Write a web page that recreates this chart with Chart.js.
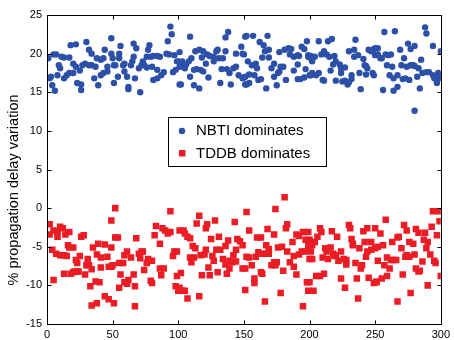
<!DOCTYPE html>
<html>
<head>
<meta charset="utf-8">
<script src="https://cdn.jsdelivr.net/npm/chart.js@4.4.0/dist/chart.umd.min.js"></script>
<style>
  body { margin: 0; background: #fff; }
  #wrap { width: 454px; height: 340px; }
</style>
</head>
<body>
<div id="wrap"><canvas id="delayChart" width="454" height="340"></canvas></div>
<script>
const xTicks = [0, 50, 100, 150, 200, 250, 300];
const yTicks = [-15, -10, -5, 0, 5, 10, 15, 20, 25];
const legendLabels = ['NBTI dominates', 'TDDB dominates'];
const yTitle = '% propagation delay variation';

// [sample index, % variation]
const nbti = [
  [1,19.4],[2,16.8],[3,17.0],[4,15.9],[5,19.9],[6,15.2],[7,19.9],[8,17.2],[9,18.5],[10,18.1],[11,19.6],[13,16.8],[13,19.5],[15,17.2],[17,17.5],[17,19.5],[18,21.1],[20,18.7],[20,17.5],[22,18.3],[22,21.2],[23,16.2],[25,17.8],[26,15.3],[26,16.0],[27,18.5],[29,18.7],[30,21.5],[32,18.5],[32,20.5],[34,20.0],[34,18.5],[36,16.8],[37,18.3],[38,19.4],[39,15.9],[41,19.2],[41,17.2],[43,19.4],[43,17.5],[44,20.5],[46,17.7],[46,18.3],[49,22.0],[49,20.0],[51,18.5],[51,16.2],
  [50,19.4],[52,18.5],[54,17.0],[55,20.0],[55,19.4],[56,21.0],[58,18.5],[59,18.7],[59,17.7],[61,17.0],[62,15.7],[62,15.4],[64,18.5],[65,19.0],[66,19.6],[66,21.3],[67,16.8],[68,20.7],[70,18.1],[71,15.0],[72,18.5],[73,19.0],[74,18.5],[76,18.2],[76,19.6],[77,20.5],[78,21.1],[79,19.6],[80,18.3],[81,19.7],[81,16.6],[84,19.7],[84,16.8],[84,17.9],[86,19.6],[87,17.2],[89,17.6],[91,20.0],[92,21.6],[93,19.9],[94,23.5],[95,22.5],[96,17.6],[97,19.8],[98,17.9],[99,19.0],[101,18.3],[101,20.2],[101,16.0],
  [100,19.0],[102,16.0],[103,19.0],[104,18.3],[105,18.1],[106,18.6],[108,19.0],[109,22.2],[109,17.0],[110,19.4],[112,17.9],[112,15.9],[113,20.3],[114,18.0],[116,15.5],[116,20.5],[117,17.9],[118,19.5],[119,20.3],[119,17.7],[121,18.7],[122,19.9],[123,16.9],[124,19.7],[127,19.6],[127,19.0],[129,20.3],[130,20.5],[131,19.4],[132,16.2],[133,18.0],[134,19.4],[136,20.3],[136,22.1],[137,18.0],[138,22.8],[139,17.5],[140,16.0],[142,18.1],[144,18.3],[144,20.0],[146,17.2],[148,20.9],[149,16.8],[149,20.0],[151,17.0],[151,22.2],[151,16.0],
  [150,19.9],[152,22.3],[150,16.9],[152,16.0],[154,16.2],[153,19.0],[156,18.5],[159,18.7],[160,18.1],[154,17.3],[158,17.2],[157,22.3],[162,21.5],[165,21.1],[161,16.6],[163,16.7],[164,19.5],[166,20.3],[169,20.5],[169,19.5],[168,22.3],[167,15.5],[171,18.1],[173,18.7],[176,17.5],[178,18.3],[180,18.3],[173,17.0],[175,15.9],[177,17.7],[177,20.2],[181,20.5],[184,20.7],[186,20.6],[188,19.6],[191,19.8],[192,19.7],[182,16.6],[185,19.9],[188,17.8],[191,18.6],[191,16.7],[193,16.7],[196,16.9],[194,20.9],[196,20.6],[197,18.0],[199,19.6],[201,17.2],[198,21.6],[201,19.4],
  [199,19.8],[201,19.7],[204,19.6],[200,17.2],[202,17.5],[205,17.2],[207,17.5],[202,19.0],[207,21.6],[209,19.9],[211,20.3],[213,19.9],[215,19.6],[219,19.7],[210,16.6],[211,16.5],[214,21.6],[217,21.9],[216,17.8],[218,18.6],[220,19.0],[223,18.6],[224,18.1],[220,16.5],[224,17.5],[227,18.2],[225,16.4],[227,16.5],[229,16.0],[230,16.3],[230,20.3],[234,20.5],[232,17.2],[232,16.7],[234,19.6],[237,19.8],[235,21.8],[238,17.5],[239,15.4],[241,19.3],[242,18.5],[243,18.4],[245,20.5],[247,20.3],[249,20.6],[244,18.1],[243,17.3],[248,17.5],[249,17.2],[250,19.8],
  [250,20.7],[252,20.7],[252,19.9],[254,19.4],[255,19.4],[257,22.8],[258,19.9],[260,19.8],[262,19.9],[259,18.5],[263,18.3],[256,15.3],[261,17.2],[264,16.8],[267,17.2],[265,22.9],[264,15.2],[267,15.7],[269,20.5],[270,18.5],[272,19.4],[274,18.3],[277,18.5],[279,18.5],[280,18.4],[283,18.1],[271,16.7],[273,16.8],[276,16.6],[275,21.3],[277,20.6],[280,21.0],[282,17.0],[284,15.5],[285,19.2],[286,17.5],[289,17.6],[291,17.6],[294,17.2],[280,12.6],[288,23.4],[289,22.6],[294,21.0],[295,16.8],[297,16.2],[298,17.5],[299,17.2],[299,16.8],[300,20.3]
];

const tddb = [
  [2,-3.4],[2,-2.1],[4,-5.4],[5,-9.3],[5,-2.9],[8,-3.1],[8,-3.7],[7,-5.9],[10,-2.4],[12,-2.6],[10,-6.1],[13,-6.1],[15,-6.2],[13,-8.5],[14,-3.4],[16,-4.8],[20,-5.1],[17,-5.1],[17,-3.1],[18,-8.5],[20,-8.3],[22,-6.7],[23,-7.1],[21,-8.2],[23,-8.2],[24,-8.2],[25,-6.2],[26,-3.7],[28,-3.5],[29,-8.6],[30,-7.4],[32,-7.4],[31,-6.6],[33,-10.1],[34,-7.9],[35,-5.1],[37,-9.5],[40,-9.6],[34,-12.6],[38,-12.3],[38,-6.0],[41,-6.4],[39,-4.6],[41,-7.7],[44,-11.4],[47,-11.8],[44,-4.7],[46,-6.3],[47,-7.6],[49,-7.6],[49,-5.1],[49,-1.6],[52,0.0],[52,-3.8],[51,-12.3],
  [54,-3.8],[50,-7.4],[55,-7.1],[58,-7.1],[56,-8.6],[61,-5.6],[59,-6.1],[55,-10.3],[59,-9.6],[61,-9.8],[62,-9.3],[66,-8.6],[64,-6.4],[67,-10.1],[68,-3.9],[67,-12.7],[70,-5.9],[72,-5.6],[73,-5.6],[71,-6.5],[76,-7.1],[77,-6.6],[80,-6.8],[74,-8.0],[79,-9.4],[80,-9.7],[83,-2.3],[82,-3.5],[86,-4.6],[86,-7.8],[89,-7.8],[87,-8.7],[88,-2.6],[90,-2.9],[92,-3.3],[94,-3.1],[94,-0.4],[96,-6.2],[97,-5.6],[99,-8.8],[101,-10.3],[98,-10.1],[101,-2.9],
  [99,-5.6],[102,-8.4],[100,-10.7],[103,-10.7],[105,-10.7],[104,-2.9],[105,-3.3],[107,-3.7],[109,-3.9],[107,-11.7],[109,-6.4],[110,-7.0],[112,-6.4],[111,-4.9],[113,-5.2],[114,-2.0],[116,-11.4],[116,-1.0],[117,-6.1],[120,-6.0],[121,-5.4],[118,-8.7],[121,-2.6],[122,-2.1],[123,-7.7],[124,-8.7],[125,-4.0],[126,-6.2],[127,-6.8],[128,-1.6],[129,-5.4],[132,-5.4],[130,-8.3],[131,-3.7],[134,-6.6],[136,-4.9],[136,-7.3],[138,-4.2],[139,-7.8],[139,-6.8],[137,-8.5],[141,-7.0],[142,-6.1],[144,-6.9],[143,-1.8],[145,-4.0],[147,-4.3],[144,-5.4],[149,-4.8],[149,-7.8],[151,-7.8],[151,-10.6],[152,-0.5],
  [154,-2.9],[152,-6.3],[154,-6.4],[156,-7.4],[158,-9.1],[158,-9.7],[160,-3.8],[163,-3.8],[159,-6.3],[161,-5.7],[164,-5.9],[167,-5.9],[169,-5.9],[163,-8.3],[164,-8.5],[166,-12.1],[167,-4.8],[168,-2.7],[169,-5.3],[171,-7.4],[173,-7.0],[174,-7.4],[175,-7.0],[173,-3.4],[174,-0.1],[176,-5.1],[179,-5.0],[180,-8.1],[181,1.4],[178,-11.0],[182,-2.6],[183,-2.1],[183,-5.6],[185,-7.0],[187,-4.4],[188,-7.6],[188,-6.2],[190,-8.6],[190,-3.4],[192,-3.6],[195,-3.1],[192,-6.0],[194,-5.6],[197,-5.6],[197,-4.1],[195,-12.7],[198,-9.6],[199,-4.9],[200,-6.6],[199,-10.7],
  [199,-3.1],[200,-4.1],[202,-4.8],[204,-4.4],[201,-5.6],[202,-6.6],[203,-10.7],[200,-9.6],[206,-3.7],[208,-2.6],[209,-3.1],[208,-8.8],[205,-8.8],[211,-8.5],[210,-6.4],[212,-5.2],[213,-5.6],[216,-5.1],[214,-6.6],[218,-5.9],[219,-6.2],[220,-6.1],[217,-3.0],[221,-3.7],[222,-6.8],[224,-5.6],[226,-6.6],[228,-6.7],[228,-7.3],[224,-9.1],[227,-10.3],[230,-2.2],[231,-2.6],[232,-4.0],[233,-4.8],[233,-4.6],[235,-7.1],[236,-9.1],[237,-11.7],[238,-5.2],[239,-7.8],[240,-7.4],[241,-3.0],[244,-2.6],[250,-2.6],[242,-4.4],[247,-4.4],[243,-6.3],[244,-5.6],[247,-5.4],[250,-5.2],[245,-9.0],[249,-9.7],[251,-9.5],[252,-6.8],
  [251,-9.6],[255,-9.1],[259,-8.8],[252,-5.0],[256,-4.8],[254,-3.3],[257,-7.4],[259,-6.4],[261,-7.8],[258,-1.5],[262,-6.7],[264,-6.7],[266,-6.7],[263,-4.4],[267,-3.8],[268,-3.7],[267,-12.1],[270,-5.2],[271,-8.6],[272,-2.2],[274,-2.9],[273,-6.3],[276,-6.3],[280,-6.0],[274,-6.1],[276,-4.4],[279,-4.6],[277,-11.0],[281,-7.8],[284,-8.1],[283,-8.2],[281,-2.7],[283,-3.2],[288,-3.2],[286,-6.9],[287,-4.1],[289,-5.2],[290,-4.4],[290,-10.0],[292,-6.0],[293,-2.4],[294,-0.4],[298,-0.4],[295,-6.8],[296,-7.1],[297,-3.5],[299,-1.7],[300,-8.8]
];

const blue = '#2c50a8';
const red = '#ec1c24';
const font = "'Liberation Sans', Arial, sans-serif";

// matlab look: full box, ticks pointing inwards, legend sitting inside the axes
const matlabBox = {
    id: 'matlabBox',
    afterDraw: function (chart) {
        const ctx = chart.ctx;
        const a = chart.chartArea;
        const xs = chart.scales.x;
        const ys = chart.scales.y;
        const L = Math.round(a.left) + 0.5, R = Math.round(a.right) + 0.5;
        const T = Math.round(a.top) + 0.5, B = Math.round(a.bottom) + 0.5;
        ctx.save();
        ctx.strokeStyle = '#000';
        ctx.lineWidth = 1;
        ctx.strokeRect(L, T, R - L, B - T);
        ctx.beginPath();
        xTicks.forEach(function (v) {
            const px = Math.round(xs.getPixelForValue(v)) + 0.5;
            ctx.moveTo(px, B); ctx.lineTo(px, B - 4);
            ctx.moveTo(px, T); ctx.lineTo(px, T + 4);
        });
        yTicks.forEach(function (v) {
            const py = Math.round(ys.getPixelForValue(v)) + 0.5;
            ctx.moveTo(L, py); ctx.lineTo(L + 4, py);
            ctx.moveTo(R, py); ctx.lineTo(R - 4, py);
        });
        ctx.stroke();

        // y label, sits a bit below the axes centre like in the source figure
        ctx.save();
        ctx.translate(14, 190);
        ctx.rotate(-Math.PI / 2);
        ctx.font = '14.5px ' + font;
        ctx.textAlign = 'center';
        ctx.textBaseline = 'middle';
        ctx.fillStyle = '#000';
        ctx.fillText(yTitle, 0, 0);
        ctx.restore();

        // legend
        const lx = 168.5, ly = 117.5, lw = 158, lh = 49;
        ctx.fillStyle = '#fff';
        ctx.fillRect(lx, ly, lw, lh);
        ctx.strokeRect(lx, ly, lw, lh);
        ctx.font = '15px ' + font;
        ctx.textBaseline = 'middle';
        ctx.fillStyle = blue;
        ctx.beginPath();
        ctx.arc(182, 131, 3.2, 0, Math.PI * 2);
        ctx.fill();
        ctx.fillStyle = red;
        ctx.fillRect(179, 150, 6.5, 6.5);
        ctx.fillStyle = '#000';
        ctx.fillText(legendLabels[0], 196, 131);
        ctx.fillText(legendLabels[1], 196, 153.5);
        ctx.restore();
    }
};

new Chart(document.getElementById('delayChart'), {
    type: 'scatter',
    data: {
        datasets: [{
            label: legendLabels[0],
            data: nbti.map(function (p) { return { x: p[0], y: p[1] }; }),
            backgroundColor: blue,
            pointStyle: 'circle',
            pointRadius: 3.2,
            pointBorderWidth: 0
        }, {
            label: legendLabels[1],
            data: tddb.map(function (p) { return { x: p[0], y: p[1] }; }),
            backgroundColor: red,
            pointStyle: 'rect',
            pointRadius: 4.6,
            pointBorderWidth: 0
        }]
    },
    options: {
        responsive: false,
        animation: false,
        layout: { padding: { top: 15, right: 9, left: 0, bottom: 0 } },
        plugins: {
            legend: { display: false },
            tooltip: { enabled: false }
        },
        scales: {
            x: {
                type: 'linear',
                min: 0,
                max: 300,
                afterFit: function (s) { s.height = 16; },
                afterBuildTicks: function (s) { s.ticks = xTicks.map(function (v) { return { value: v }; }); },
                grid: { display: false, drawTicks: false },
                border: { display: false },
                ticks: { color: '#000', padding: 4, maxRotation: 0, font: { family: font, size: 11 } }
            },
            y: {
                type: 'linear',
                min: -15,
                max: 25,
                afterFit: function (s) { s.width = 47; },
                afterBuildTicks: function (s) { s.ticks = yTicks.map(function (v) { return { value: v }; }); },
                grid: { display: false, drawTicks: false },
                border: { display: false },
                ticks: { color: '#000', padding: 5, font: { family: font, size: 11 } }
            }
        }
    },
    plugins: [matlabBox]
});
</script>
</body>
</html>
